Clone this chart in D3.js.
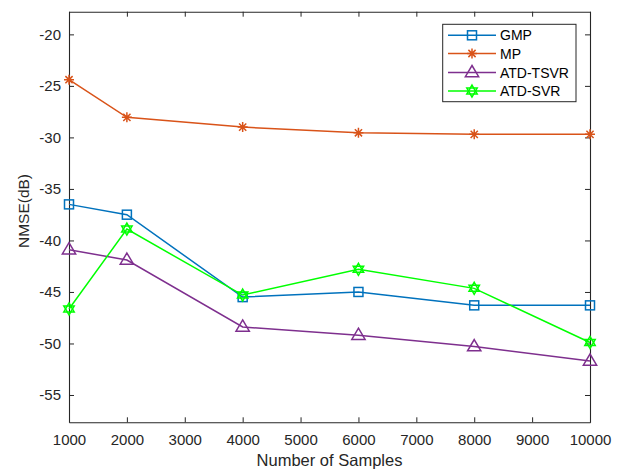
<!DOCTYPE html>
<html>
<head>
<meta charset="utf-8">
<script src="https://cdn.jsdelivr.net/npm/d3@7"></script>
<style>
  html, body { margin: 0; padding: 0; background: #fff; }
  svg { display: block; font-family: "Liberation Sans", Arial, Helvetica, sans-serif; }
</style>
</head>
<body>
<svg id="chart" width="624" height="472"></svg>
<script>
// Sample sizes on the x axis
const samples = [1000, 2000, 4000, 6000, 8000, 10000];

// NMSE (dB) per method
const gmp     = [-36.5, -37.5, -45.5, -45.0, -46.3, -46.3];
const mp      = [-24.4, -28.05, -29.0, -29.55, -29.7, -29.7];
const atdTsvr = [-40.9, -41.9, -48.4, -49.2, -50.3, -51.7];
const atdSvr  = [-46.65, -38.9, -45.3, -42.8, -44.65, -49.9];

const seriesNames = ["GMP", "MP", "ATD-TSVR", "ATD-SVR"];
const xTicks = [1000, 2000, 3000, 4000, 5000, 6000, 7000, 8000, 9000, 10000];
const yTicks = [-55, -50, -45, -40, -35, -30, -25, -20];

const series = [
  { name: seriesNames[0], values: gmp,     color: "#0072BD", marker: "square" },
  { name: seriesNames[1], values: mp,      color: "#D95319", marker: "asterisk" },
  { name: seriesNames[2], values: atdTsvr, color: "#7E2F8E", marker: "triangle" },
  { name: seriesNames[3], values: atdSvr,  color: "#00FF00", marker: "hexagram" }
];

const svg = d3.select("#chart");
const plotLeft = 69, plotRight = 590, plotTop = 11.7, plotBottom = 422.3;
const axisColor = "#262626";

const x = d3.scaleLinear().domain([1000, 10000]).range([plotLeft, plotRight]);
const y = d3.scaleLinear().domain([-57.65, -17.8]).range([plotBottom, plotTop]);

// Plain hyphen-minus labels
const plainFmt = d => String(d);

// Axes with inward ticks (box style)
const tickLen = 5;
const gx = svg.append("g").attr("transform", `translate(0,${plotBottom})`)
  .call(d3.axisBottom(x).tickValues(xTicks).tickSizeInner(-tickLen).tickSizeOuter(0).tickPadding(12).tickFormat(plainFmt));
const gxTop = svg.append("g").attr("transform", `translate(0,${plotTop})`)
  .call(d3.axisTop(x).tickValues(xTicks).tickSizeInner(-tickLen).tickSizeOuter(0).tickFormat(""));
const gy = svg.append("g").attr("transform", `translate(${plotLeft},0)`)
  .call(d3.axisLeft(y).tickValues(yTicks).tickSizeInner(-tickLen).tickSizeOuter(0).tickPadding(8).tickFormat(plainFmt));
const gyRight = svg.append("g").attr("transform", `translate(${plotRight},0)`)
  .call(d3.axisRight(y).tickValues(yTicks).tickSizeInner(-tickLen).tickSizeOuter(0).tickFormat(""));

[gx, gxTop, gy, gyRight].forEach(g => {
  g.selectAll("path.domain").attr("stroke", axisColor).attr("stroke-width", 1.1);
  g.selectAll(".tick line").attr("stroke", axisColor).attr("stroke-width", 1);
  g.selectAll(".tick text").attr("fill", axisColor).style("font-size", "15px")
    .style("font-family", "'Liberation Sans', Arial, sans-serif");
});

// Axis titles
svg.append("text")
  .attr("x", (plotLeft + plotRight) / 2).attr("y", 465.5)
  .attr("text-anchor", "middle").attr("fill", axisColor)
  .style("font-size", "16.5px")
  .text("Number of Samples");
svg.append("text")
  .attr("transform", `translate(28.5,211) rotate(-90)`)
  .attr("text-anchor", "middle").attr("fill", axisColor)
  .style("font-size", "15.5px")
  .text("NMSE(dB)");

// Marker drawing
function drawMarker(g, type, cx, cy, color) {
  const sw = 1.5;
  if (type === "square") {
    const s = 9;
    g.append("rect").attr("x", cx - s / 2).attr("y", cy - s / 2)
      .attr("width", s).attr("height", s)
      .attr("fill", "none").attr("stroke", color).attr("stroke-width", sw);
  } else if (type === "asterisk") {
    const r = 5;
    const p = d3.path();
    p.moveTo(cx - r, cy); p.lineTo(cx + r, cy);
    p.moveTo(cx, cy - r); p.lineTo(cx, cy + r);
    const d = r * 0.72;
    p.moveTo(cx - d, cy - d); p.lineTo(cx + d, cy + d);
    p.moveTo(cx - d, cy + d); p.lineTo(cx + d, cy - d);
    g.append("path").attr("d", p.toString())
      .attr("fill", "none").attr("stroke", color).attr("stroke-width", sw);
  } else if (type === "triangle") {
    const r = 7;
    const pts = [[cx, cy - r], [cx + r * 0.95, cy + r * 0.6], [cx - r * 0.95, cy + r * 0.6]];
    g.append("polygon").attr("points", pts.map(q => q.join(",")).join(" "))
      .attr("fill", "none").attr("stroke", color).attr("stroke-width", sw);
  } else if (type === "hexagram") {
    const r = 6;
    const t1 = [0, 1, 2].map(i => {
      const a = -Math.PI / 2 + i * 2 * Math.PI / 3;
      return [cx + r * Math.cos(a), cy + r * Math.sin(a)];
    });
    const t2 = [0, 1, 2].map(i => {
      const a = Math.PI / 2 + i * 2 * Math.PI / 3;
      return [cx + r * Math.cos(a), cy + r * Math.sin(a)];
    });
    [t1, t2].forEach(t => g.append("polygon").attr("points", t.map(q => q.join(",")).join(" "))
      .attr("fill", "none").attr("stroke", color).attr("stroke-width", sw));
  }
}

// Lines and markers
const line = d3.line().x(d => x(d[0])).y(d => y(d[1]));
const plot = svg.append("g");
series.forEach(s => {
  const pts = samples.map((v, i) => [v, s.values[i]]);
  plot.append("path").datum(pts).attr("d", line)
    .attr("fill", "none").attr("stroke", s.color).attr("stroke-width", 1.5);
  const mg = plot.append("g");
  pts.forEach(p => drawMarker(mg, s.marker, x(p[0]), y(p[1]), s.color));
});

// Legend
const lg = svg.append("g");
const lx = 442.7, ly = 24.3, lw = 133.3, lh = 77.4;
lg.append("rect").attr("x", lx).attr("y", ly).attr("width", lw).attr("height", lh)
  .attr("fill", "#fff").attr("stroke", axisColor).attr("stroke-width", 1);
const rowY = [35.3, 53.5, 72.5, 91];
series.forEach((s, i) => {
  const ry = rowY[i];
  lg.append("line").attr("x1", 448).attr("x2", 496).attr("y1", ry).attr("y2", ry)
    .attr("stroke", s.color).attr("stroke-width", 1.5);
  drawMarker(lg, s.marker, 472, ry, s.color);
  lg.append("text").attr("x", 500).attr("y", ry + 5)
    .attr("fill", "#000").style("font-size", "14px").text(s.name);
});
</script>
</body>
</html>
